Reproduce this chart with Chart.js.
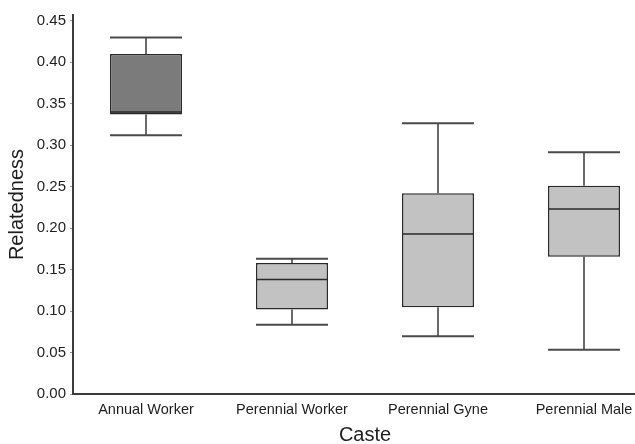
<!DOCTYPE html>
<html>
<head>
<meta charset="utf-8">
<script src="https://cdn.jsdelivr.net/npm/chart.js@4.4.1/dist/chart.umd.min.js"></script>
<style>
  html, body { margin: 0; padding: 0; background: #fff; }
  #wrap { width: 635px; height: 444px; overflow: hidden; position: relative; }
  canvas { display: block; }
</style>
</head>
<body>
<div id="wrap"><canvas id="c" width="660" height="444"></canvas></div>
<script>
// ---- data ----
const categories = ["Annual Worker", "Perennial Worker", "Perennial Gyne", "Perennial Male"];
const whiskerLow  = [0.312, 0.0835, 0.0695, 0.0535];
const quartile1   = [0.337, 0.102, 0.1045, 0.1655];
const medians     = [0.340, 0.138, 0.193, 0.223];
const quartile3   = [0.410, 0.158, 0.242, 0.251];
const whiskerHigh = [0.430, 0.163, 0.3265, 0.2915];
const boxColors   = ["#7b7b7b", "#c2c2c2", "#c2c2c2", "#c2c2c2"];
const yTicks      = [0, 0.05, 0.10, 0.15, 0.20, 0.25, 0.30, 0.35, 0.40, 0.45];

const FONT = "'Liberation Sans', Arial, sans-serif";

const boxData = categories.map((c, i) => [quartile1[i], quartile3[i]]);

const whiskerPlugin = {
  id: 'whiskers',
  afterDatasetsDraw(chart) {
    const meta = chart.getDatasetMeta(0);
    const y = chart.scales.y;
    const ctx = chart.ctx;
    ctx.save();
    meta.data.forEach((bar, i) => {
      const half = bar.width / 2;
      const x = bar.x;
      const yHi = y.getPixelForValue(whiskerHigh[i]);
      const yLo = y.getPixelForValue(whiskerLow[i]);
      const yQ3 = y.getPixelForValue(quartile3[i]);
      const yQ1 = y.getPixelForValue(quartile1[i]);
      const yMed = y.getPixelForValue(medians[i]);
      ctx.strokeStyle = '#3a3a3a';
      ctx.lineWidth = 1.5;
      ctx.beginPath();
      ctx.moveTo(x, yHi); ctx.lineTo(x, yQ3);
      ctx.moveTo(x, yQ1); ctx.lineTo(x, yLo);
      ctx.stroke();
      ctx.strokeStyle = '#4a4a4a';
      ctx.lineWidth = 2;
      ctx.beginPath();
      ctx.moveTo(x - half, yHi); ctx.lineTo(x + half, yHi);
      ctx.moveTo(x - half, yLo); ctx.lineTo(x + half, yLo);
      ctx.stroke();
      ctx.strokeStyle = '#2a2a2a';
      ctx.lineWidth = 1.5;
      ctx.beginPath();
      ctx.moveTo(x - half, yMed); ctx.lineTo(x + half, yMed);
      ctx.stroke();
    });
    ctx.restore();
  }
};

new Chart(document.getElementById('c'), {
  type: 'bar',
  data: {
    labels: categories,
    datasets: [{
      data: boxData,
      backgroundColor: boxColors,
      borderColor: '#2a2a2a',
      borderWidth: 1.5,
      borderSkipped: false,
      categoryPercentage: 1,
      barPercentage: 0.493
    }]
  },
  options: {
    responsive: false,
    animation: false,
    events: [],
    layout: { padding: { left: 0, top: 15, right: 3, bottom: 0 } },
    plugins: { legend: { display: false }, tooltip: { enabled: false } },
    scales: {
      x: {
        type: 'category',
        offset: true,
        grid: { display: false, drawTicks: false, tickLength: 0 },
        border: { display: true, color: '#3c3c3c', width: 2 },
        ticks: { color: '#1e1e1e', font: { family: FONT, size: 14.5 }, padding: 7, maxRotation: 0, autoSkip: false },
        title: { display: true, text: 'Caste', color: '#1e1e1e', font: { family: FONT, size: 20 }, padding: { top: 0, bottom: -3 } },
        afterFit(s) { s.height = 50; }
      },
      y: {
        type: 'linear',
        min: 0,
        max: 0.457,
        grid: { display: true, drawOnChartArea: false, drawTicks: true, tickLength: 3, color: '#9a9a9a', lineWidth: 1 },
        border: { display: true, color: '#3c3c3c', width: 2 },
        afterBuildTicks(s) { s.ticks = yTicks.map(v => ({ value: v })); },
        ticks: {
          color: '#1e1e1e', font: { family: FONT, size: 15 }, padding: 4,
          callback: v => Number(v).toFixed(2)
        },
        title: { display: true, text: 'Relatedness', color: '#1e1e1e', font: { family: FONT, size: 20 }, padding: { top: 5, bottom: 0 } },
        afterFit(s) { s.width = 73; }
      }
    }
  },
  plugins: [whiskerPlugin]
});
</script>
</body>
</html>
